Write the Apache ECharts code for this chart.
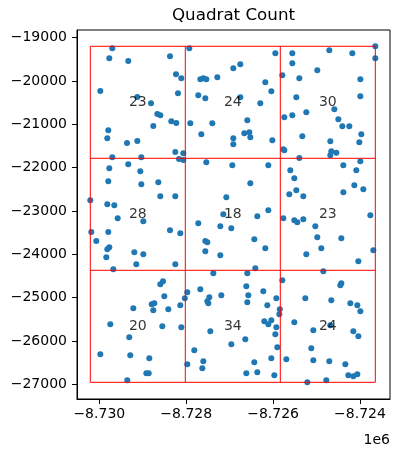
<!DOCTYPE html>
<html>
<head>
<meta charset="utf-8">
<title>Quadrat Count</title>
<script src="https://cdn.jsdelivr.net/npm/echarts@6/dist/echarts.min.js"></script>
<style>
  html, body { margin: 0; padding: 0; background: #fff; }
  #chart { width: 399px; height: 451px; }
</style>
</head>
<body>
<div id="chart"></div>
<script>
// point coordinates (web mercator metres), listed quadrat by quadrat
const xs = [
  // top row
  -8729701, -8729770, -8729333, -8728373, -8728235, -8728113, -8729977, -8728189, -8729125, -8728810, -8728665, -8728596,
  -8728343, -8728228, -8728757, -8729793, -8729816, -8729362, -8729125, -8728251, -8728067, -8729701, -8729033,
  -8727929, -8725949, -8726916, -8726755, -8727675, -8727606, -8727537, -8727284, -8726180, -8726041, -8727722, -8727560,
  -8726755, -8726295, -8727906, -8727399, -8726594, -8727652, -8726663, -8726548, -8726525, -8726916, -8726916, -8726018,
  -8725558, -8724707, -8724177, -8723648, -8723648, -8725558, -8724983, -8725788, -8725397, -8723993, -8725466, -8723993,
  -8724591, -8725236, -8725558, -8725742, -8724499, -8724407, -8724246, -8723970, -8725328, -8724684, -8724016, -8725765,
  -8725742, -8724661, -8724545, -8724684, -8725397,
  // middle row
  -8728166, -8728067, -8729770, -8729333, -8729056, -8729793, -8729033, -8728642, -8728596, -8728251, -8730207, -8729816,
  -8729655, -8729577, -8728987, -8730184, -8729793, -8730069, -8728373, -8728136, -8729770, -8729816, -8729194, -8728987,
  -8729839, -8729148, -8728251, -8729678,
  -8727537, -8726939, -8726110, -8726525, -8727077, -8727146, -8726110, -8726364, -8727722, -8727215, -8726962, -8727560,
  -8727514, -8726433, -8726180, -8727560, -8727215, -8726410,
  -8724384, -8723993, -8725604, -8724085, -8725512, -8724131, -8723924, -8725466, -8725627, -8724384, -8725305, -8723763,
  -8725765, -8725512, -8725443, -8725305, -8725029, -8724983, -8724430, -8724891, -8723694, -8725236, -8724039,
  // bottom row
  -8728596, -8728534, -8728504, -8728032, -8729217, -8728794, -8728734, -8728757, -8728412, -8728136, -8729747, -8728550,
  -8728113, -8729310, -8729977, -8729287, -8728849, -8728918, -8728863, -8729356,
  -8727376, -8726594, -8727975, -8727675, -8727468, -8727514, -8727491, -8727192, -8726617, -8726571, -8726594, -8726226,
  -8725926, -8726133, -8725846, -8725857, -8726203, -8726041, -8726110, -8725926, -8727445, -8725949, -8726640, -8726962,
  -8725903, -8727814, -8726041, -8726433, -8727975, -8727606, -8727629, -8726617, -8726364, -8725972,
  -8724845, -8725788, -8724430, -8724453, -8725259, -8724661, -8724223, -8724062, -8723993, -8725512, -8725075, -8724684,
  -8724154, -8724039, -8725121, -8725696, -8725075, -8724707, -8724338, -8724269, -8724154, -8724062, -8725213, -8724776
];
const ys = [
  // top row
  -19245, -19475, -19538, -19429, -19845, -19937, -20230, -20283, -20369, -20514, -20761, -20791,
  -20929, -20969, -21038, -21137, -21322, -21430, -21384, -21638, -21668, -21760, -21760,
  -19245, -19360, -19706, -19614, -19960, -19937, -19960, -19914, -20029, -20237, -20329, -20399,
  -20376, -20514, -20976, -20976, -20906, -21230, -21206, -21183, -21299, -21322, -21460, -21368,
  -19360, -19291, -19360, -19198, -19475, -19591, -19752, -19868, -19937, -19960, -20376, -20352,
  -20653, -20722, -20791, -20837, -20883, -21045, -21045, -21230, -21276, -21391, -21414, -21576,
  -21599, -21622, -21654, -21714, -21777,
  // middle row
  -21800, -21823, -22014, -21922, -22083, -22314, -22384, -22337, -22660, -22660, -22753, -22845,
  -22868, -23168, -23237, -23484, -23484, -23692, -23445, -23514, -23838, -23884, -23953, -23999,
  -24068, -24230, -24230, -24345,
  -21876, -21945, -21945, -22360, -22684, -23076, -22984, -23122, -23284, -23353, -23399, -23692,
  -23722, -23653, -23861, -23930, -24022, -24322,
  -21945, -21853, -22060, -22060, -22245, -22407, -22499, -22522, -22614, -22568, -22660, -23099,
  -23168, -23214, -23261, -23191, -23353, -23607, -23630, -23861, -23907, -23999, -24161,
  // bottom row
  -24692, -24622, -24968, -25015, -25245, -25153, -25130, -25292, -25268, -25176, -25615, -25661,
  -25684, -25915, -26307, -26330, -26399, -26746, -26746, -26907,
  -24438, -24438, -24876, -24807, -24992, -25084, -25130, -24945, -24738, -24945, -25107, -24853,
  -25015, -25176, -25268, -25384, -25546, -25522, -25615, -25684, -25776, -25845, -25961, -26076,
  -26146, -26215, -26399, -26492, -26538, -26469, -26630, -26746, -26723, -26792,
  -24391, -24599, -24668, -24715, -25015, -25061, -25130, -25176, -25315, -25569, -25753, -25638,
  -25776, -25892, -26169, -26423, -26446, -26469, -26538, -26792, -26815, -26769, -26953, -26907
];
// quadrat counts, row by row from the top, left to right
const counts = [23, 24, 30, 28, 18, 23, 20, 34, 24];
const xTicks = [-8730000, -8728000, -8726000, -8724000];
const yTicks = [-27000, -26000, -25000, -24000, -23000, -22000, -21000, -20000, -19000];

const nx = 3, ny = 3;
const FONT = 'DejaVu Sans';
const minus = '\u2212';

let chart = echarts.init(document.getElementById('chart'));

let xmin = Math.min(...xs), xmax = Math.max(...xs);
let ymin = Math.min(...ys), ymax = Math.max(...ys);
let w = (xmax - xmin) / nx, h = (ymax - ymin) / ny;

let points = xs.map((x, i) => [x, ys[i]]);

let gridLines = [];
for (let i = 0; i <= nx; i++) {
  let x = xmin + i * w;
  gridLines.push([[x, ymin], [x, ymax]]);
}
for (let j = 0; j <= ny; j++) {
  let y = ymin + j * h;
  gridLines.push([[xmin, y], [xmax, y]]);
}

let labelData = [];
for (let j = 0; j < ny; j++) {
  for (let i = 0; i < nx; i++) {
    labelData.push({
      value: [xmin + (i + 0.5) * w, ymax - (j + 0.5) * h],
      count: counts[j * nx + i]
    });
  }
}

let axisCommon = {
  type: 'value',
  splitLine: { show: false },
  axisLine: { show: true, onZero: false, lineStyle: { color: '#000', width: 1 } },
  axisTick: { show: true, length: 5, lineStyle: { color: '#000', width: 1 } },
  axisLabel: { color: '#000', fontFamily: FONT, fontSize: 14 }
};

let option = {
  animation: false,
  backgroundColor: '#fff',
  grid: {
    left: 77, right: 9, top: 30, bottom: 52,
    show: true, borderColor: '#000', borderWidth: 1
  },
  xAxis: {
    ...axisCommon,
    min: -8730513,
    max: -8723310,
    axisTick: { ...axisCommon.axisTick, customValues: xTicks },
    axisLabel: {
      ...axisCommon.axisLabel,
      margin: 8,
      customValues: xTicks,
      formatter: v => (v < 0 ? minus : '') + (Math.abs(v) / 1e6).toFixed(3)
    }
  },
  yAxis: {
    ...axisCommon,
    min: -27338,
    max: -18822,
    axisTick: { ...axisCommon.axisTick, customValues: yTicks },
    axisLabel: {
      ...axisCommon.axisLabel,
      margin: 10,
      customValues: yTicks,
      formatter: v => (v < 0 ? minus : '') + Math.abs(v)
    }
  },
  graphic: [
    {
      type: 'text',
      style: {
        text: 'Quadrat Count', x: 233.5, y: 16,
        textAlign: 'center', textVerticalAlign: 'middle',
        font: '16.7px "DejaVu Sans"', fill: '#000'
      }
    },
    {
      type: 'text',
      style: {
        text: '1e6', x: 390, y: 440,
        textAlign: 'right', textVerticalAlign: 'middle',
        font: '14px "DejaVu Sans"', fill: '#000'
      }
    }
  ],
  series: [
    {
      type: 'scatter',
      data: points,
      symbolSize: 6,
      itemStyle: { color: '#1f77b4', opacity: 1 },
      z: 2
    },
    ...gridLines.map(seg => ({
      type: 'line',
      data: seg,
      symbol: 'none',
      lineStyle: { color: '#ff0000', width: 1 },
      z: 3
    })),
    {
      type: 'scatter',
      data: labelData,
      symbolSize: 1,
      itemStyle: { color: 'rgba(0,0,0,0)' },
      label: {
        show: true,
        position: 'inside',
        formatter: p => String(p.data.count),
        color: '#000',
        fontFamily: FONT,
        fontSize: 14
      },
      z: 4
    }
  ]
};

chart.setOption(option);
</script>
</body>
</html>
